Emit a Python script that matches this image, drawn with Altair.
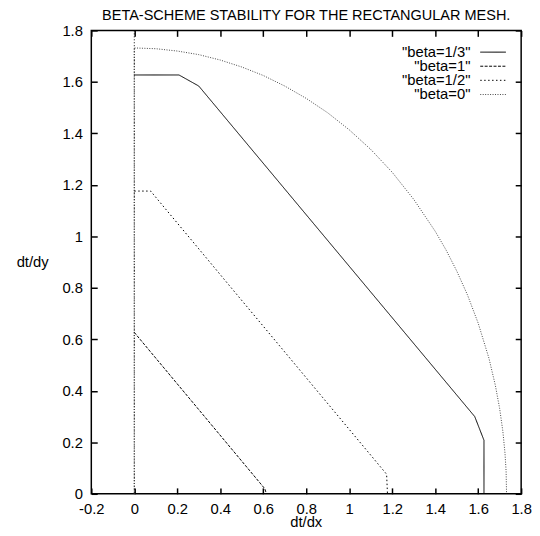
import altair as alt
import pandas as pd

FONT = "Liberation Sans"

title_text = "BETA-SCHEME STABILITY FOR THE RECTANGULAR MESH."
x_title = "dt/dx"
y_title = "dt/dy"

series_names = ['"beta=1/3"', '"beta=1"', '"beta=1/2"', '"beta=0"']

beta13_x = [0.0, 0.208, 0.300, 1.584, 1.627, 1.627]
beta13_y = [1.627, 1.627, 1.584, 0.300, 0.208, 0.0]

beta1_x = [0.0, 0.607, 0.615]
beta1_y = [0.627, 0.020, 0.0]

beta12_x = [0.0, 0.076, 1.174, 1.178]
beta12_y = [1.176, 1.176, 0.076, 0.0]

beta0_x = [0.0, 0.0, 0.1, 0.2, 0.3, 0.4, 0.5, 0.6, 0.7, 0.8, 0.9, 1.0, 1.1, 1.2,
           1.3, 1.4, 1.45, 1.5, 1.55, 1.6, 1.65, 1.68, 1.7, 1.715, 1.725, 1.730, 1.732]
beta0_y = [0.0, 1.732, 1.729, 1.720, 1.706, 1.685, 1.658, 1.625, 1.584, 1.536, 1.480,
           1.414, 1.338, 1.249, 1.144, 1.020, 0.948, 0.866, 0.773, 0.663, 0.527,
           0.421, 0.331, 0.242, 0.156, 0.087, 0.0]

x_ticks = [-0.2, 0.0, 0.2, 0.4, 0.6, 0.8, 1.0, 1.2, 1.4, 1.6, 1.8]
y_ticks = [0.0, 0.2, 0.4, 0.6, 0.8, 1.0, 1.2, 1.4, 1.6, 1.8]
zero_axis_x = [0.0]

series_colors = ["black", "black", "black", "#444444"]
series_dashes = [[1, 0], [3, 1.5], [1.5, 2.5], [1, 1.5]]

rows = []
for name, xs, ys in zip(series_names,
                        [beta13_x, beta1_x, beta12_x, beta0_x],
                        [beta13_y, beta1_y, beta12_y, beta0_y]):
    for i, (xv, yv) in enumerate(zip(xs, ys)):
        rows.append({"series": name, "x": xv, "y": yv, "order": i})
df = pd.DataFrame(rows)

W, H = 436, 470
FS = 15

xscale = alt.Scale(domain=[-0.2, 1.8], nice=False, zero=False)
yscale = alt.Scale(domain=[0, 1.8], nice=False, zero=False)

label_expr = "replace(format(datum.value, '.1~f'), '\u2212', '-')"

base_axis = dict(offset=-6, tickSize=6, domain=False, grid=False,
                 tickColor="black", tickWidth=1.5, labelFont=FONT,
                 labelFontSize=FS, labelColor="black", title=None,
                 labelFlush=False, labelOverlap=False)

color_scale = alt.Scale(domain=series_names, range=series_colors)
dash_scale = alt.Scale(domain=series_names, range=series_dashes)

lines = alt.Chart(df).mark_line(strokeWidth=1, clip=True).encode(
    x=alt.X("x:Q", scale=xscale,
            axis=alt.Axis(orient="bottom", values=x_ticks, labelExpr=label_expr,
                          labelPadding=8, **base_axis)),
    y=alt.Y("y:Q", scale=yscale,
            axis=alt.Axis(orient="left", values=y_ticks, labelExpr=label_expr,
                          labelPadding=9, **base_axis)),
    color=alt.Color("series:N", scale=color_scale, legend=None),
    strokeDash=alt.StrokeDash("series:N", scale=dash_scale, legend=None),
    detail="series:N",
    order=alt.Order("order:Q"),
)

mirror = alt.Chart(df).mark_point(opacity=0).encode(
    x=alt.X("x:Q", scale=xscale,
            axis=alt.Axis(orient="top", values=x_ticks, labels=False, **base_axis)),
    y=alt.Y("y:Q", scale=yscale,
            axis=alt.Axis(orient="right", values=y_ticks, labels=False, **base_axis)),
)

zero_axis = alt.Chart(pd.DataFrame({"x": zero_axis_x})).mark_rule(
    color="black", strokeWidth=1, strokeDash=[1, 2]
).encode(
    x=alt.X("x:Q", scale=xscale, axis=None),
    y=alt.value(0),
    y2=alt.value(H),
)

legend_layers = []
row_y = [22, 36.3, 50.6, 65]
for i, name in enumerate(series_names):
    legend_layers.append(
        alt.Chart(pd.DataFrame({"label": [name]})).mark_text(
            align="right", baseline="middle", font=FONT, fontSize=FS, color="black"
        ).encode(text="label:N", x=alt.value(384.5), y=alt.value(row_y[i]))
    )
    legend_layers.append(
        alt.Chart(pd.DataFrame({"label": [name]})).mark_rule(
            color=series_colors[i], strokeWidth=1, strokeDash=series_dashes[i]
        ).encode(x=alt.value(394.5), x2=alt.value(420.5), y=alt.value(row_y[i]))
    )

title_layer = alt.Chart(pd.DataFrame({"t": [title_text]})).mark_text(
    align="center", baseline="alphabetic", font=FONT, fontSize=14.7, color="black"
).encode(text="t:N", x=alt.value(W / 2), y=alt.value(-11))

xtitle_layer = alt.Chart(pd.DataFrame({"t": [x_title]})).mark_text(
    align="center", baseline="middle", font=FONT, fontSize=FS, color="black"
).encode(text="t:N", x=alt.value(W / 2), y=alt.value(H + 29))

ytitle_layer = alt.Chart(pd.DataFrame({"t": [y_title]})).mark_text(
    align="center", baseline="middle", font=FONT, fontSize=FS, color="black"
).encode(text="t:N", x=alt.value(-59.5), y=alt.value(235))

chart = alt.layer(
    zero_axis, lines, mirror, *legend_layers, title_layer, xtitle_layer, ytitle_layer
).resolve_axis(
    x="independent", y="independent"
).properties(
    width=W,
    height=H,
    padding={"left": 84.5, "top": 19, "right": 11, "bottom": 36},
    autosize=alt.AutoSizeParams(type="none"),
).configure_view(
    stroke="black", strokeWidth=1.5
)

chart.save("out.html", embed_options={"renderer": "svg", "actions": False})
